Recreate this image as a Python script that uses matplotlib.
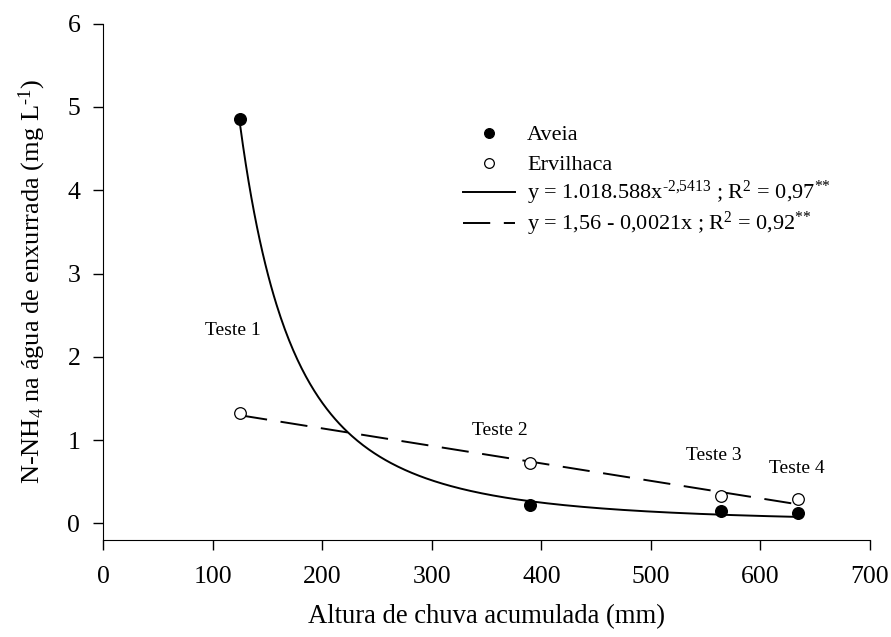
import numpy as np
import matplotlib
matplotlib.use("Agg")
import matplotlib.pyplot as plt
from matplotlib.lines import Line2D

plt.rcParams['font.family'] = ['Liberation Serif', 'DejaVu Serif']
plt.rcParams['mathtext.fontset'] = 'custom'
plt.rcParams['mathtext.rm'] = 'Liberation Serif'
plt.rcParams['mathtext.it'] = 'Liberation Serif'
plt.rcParams['mathtext.bf'] = 'Liberation Serif:bold'
plt.rcParams['mathtext.default'] = 'regular'

# Data
rain = [125, 390, 564, 634]
aveia = [4.85, 0.22, 0.15, 0.13]
ervilhaca = [1.32, 0.73, 0.33, 0.29]
test_labels = ["Teste 1", "Teste 2", "Teste 3", "Teste 4"]
test_label_pos = [(118, 2.31), (362, 1.12), (557, 0.81), (633, 0.66)]

# Fitted models
pow_a, pow_b = 1018588, -2.5413
lin_a, lin_b = 1.56, -0.0021

legend_labels = [
    "Aveia",
    "Ervilhaca",
    "y = 1.018.588x$^{\u20102{,}5413}$ ; R$^{2}$ = 0,97$^{{*}{*}}$",
    "y = 1,56 - 0,0021x ; R$^{2}$ = 0,92$^{{*}{*}}$",
]

W, H = 891, 637
fig = plt.figure(figsize=(W / 100, H / 100), dpi=100)
ax = fig.add_axes([0.1159, 0.1523, 0.8605, 0.8105])

xs = np.linspace(rain[0], rain[-1], 400)
ax.plot(xs, pow_a * xs ** pow_b, color='black', lw=1.4, zorder=2)
ax.plot(xs, lin_a + lin_b * xs, color='black', lw=1.4, dashes=(14, 7), zorder=2)

ax.scatter(rain, aveia, s=70, color='black', zorder=3)
ax.scatter(rain, ervilhaca, s=70, facecolor='white', edgecolor='black', lw=0.9, zorder=3)

for t, (tx, ty) in zip(test_labels, test_label_pos):
    ax.text(tx, ty, t, fontsize=14, ha='center', va='center')

ax.set_xlim(0, 700)
ax.set_ylim(-0.2, 6)
ax.set_xticks(range(0, 701, 100))
ax.set_yticks(range(0, 7))
ax.spines['top'].set_visible(False)
ax.spines['right'].set_visible(False)
ax.spines['left'].set_bounds(-0.2, 6)
ax.tick_params(direction='out', length=7.5, width=1, labelsize=18.5)
ax.tick_params(axis='x', pad=11)
ax.tick_params(axis='y', pad=9)

ax.set_xlabel("Altura de chuva acumulada (mm)", fontsize=19.2, labelpad=12)
ax.set_ylabel("N-NH$_4$ na água de enxurrada (mg L$^{\u2010 1}$)", fontsize=19, labelpad=14)

# Legend (manual layout, figure pixel rows)
row_px = [133, 163, 192, 223]
line_x0, line_x1, mark_x, text_x = 463, 515, 489, 527
styles = [
    dict(kind='marker', mfc='black'),
    dict(kind='marker', mfc='white'),
    dict(kind='line', dashes=None),
    dict(kind='line', dashes=(14, 7)),
]
for lab, ypx, st in zip(legend_labels, row_px, styles):
    yf = 1 - ypx / H
    if st['kind'] == 'marker':
        fig.add_artist(Line2D([mark_x / W], [yf], marker='o', ls='none',
                              markerfacecolor=st['mfc'], markeredgecolor='black',
                              markersize=7, markeredgewidth=0.9))
    else:
        ln = Line2D([line_x0 / W, line_x1 / W], [yf, yf], color='black', lw=1.4)
        if st['dashes']:
            ln.set_dashes(st['dashes'])
        fig.add_artist(ln)
    fig.text(text_x / W, 1 - (ypx + 7) / H, lab, fontsize=16, ha='left', va='baseline')

fig.savefig("out.png", dpi=100)
